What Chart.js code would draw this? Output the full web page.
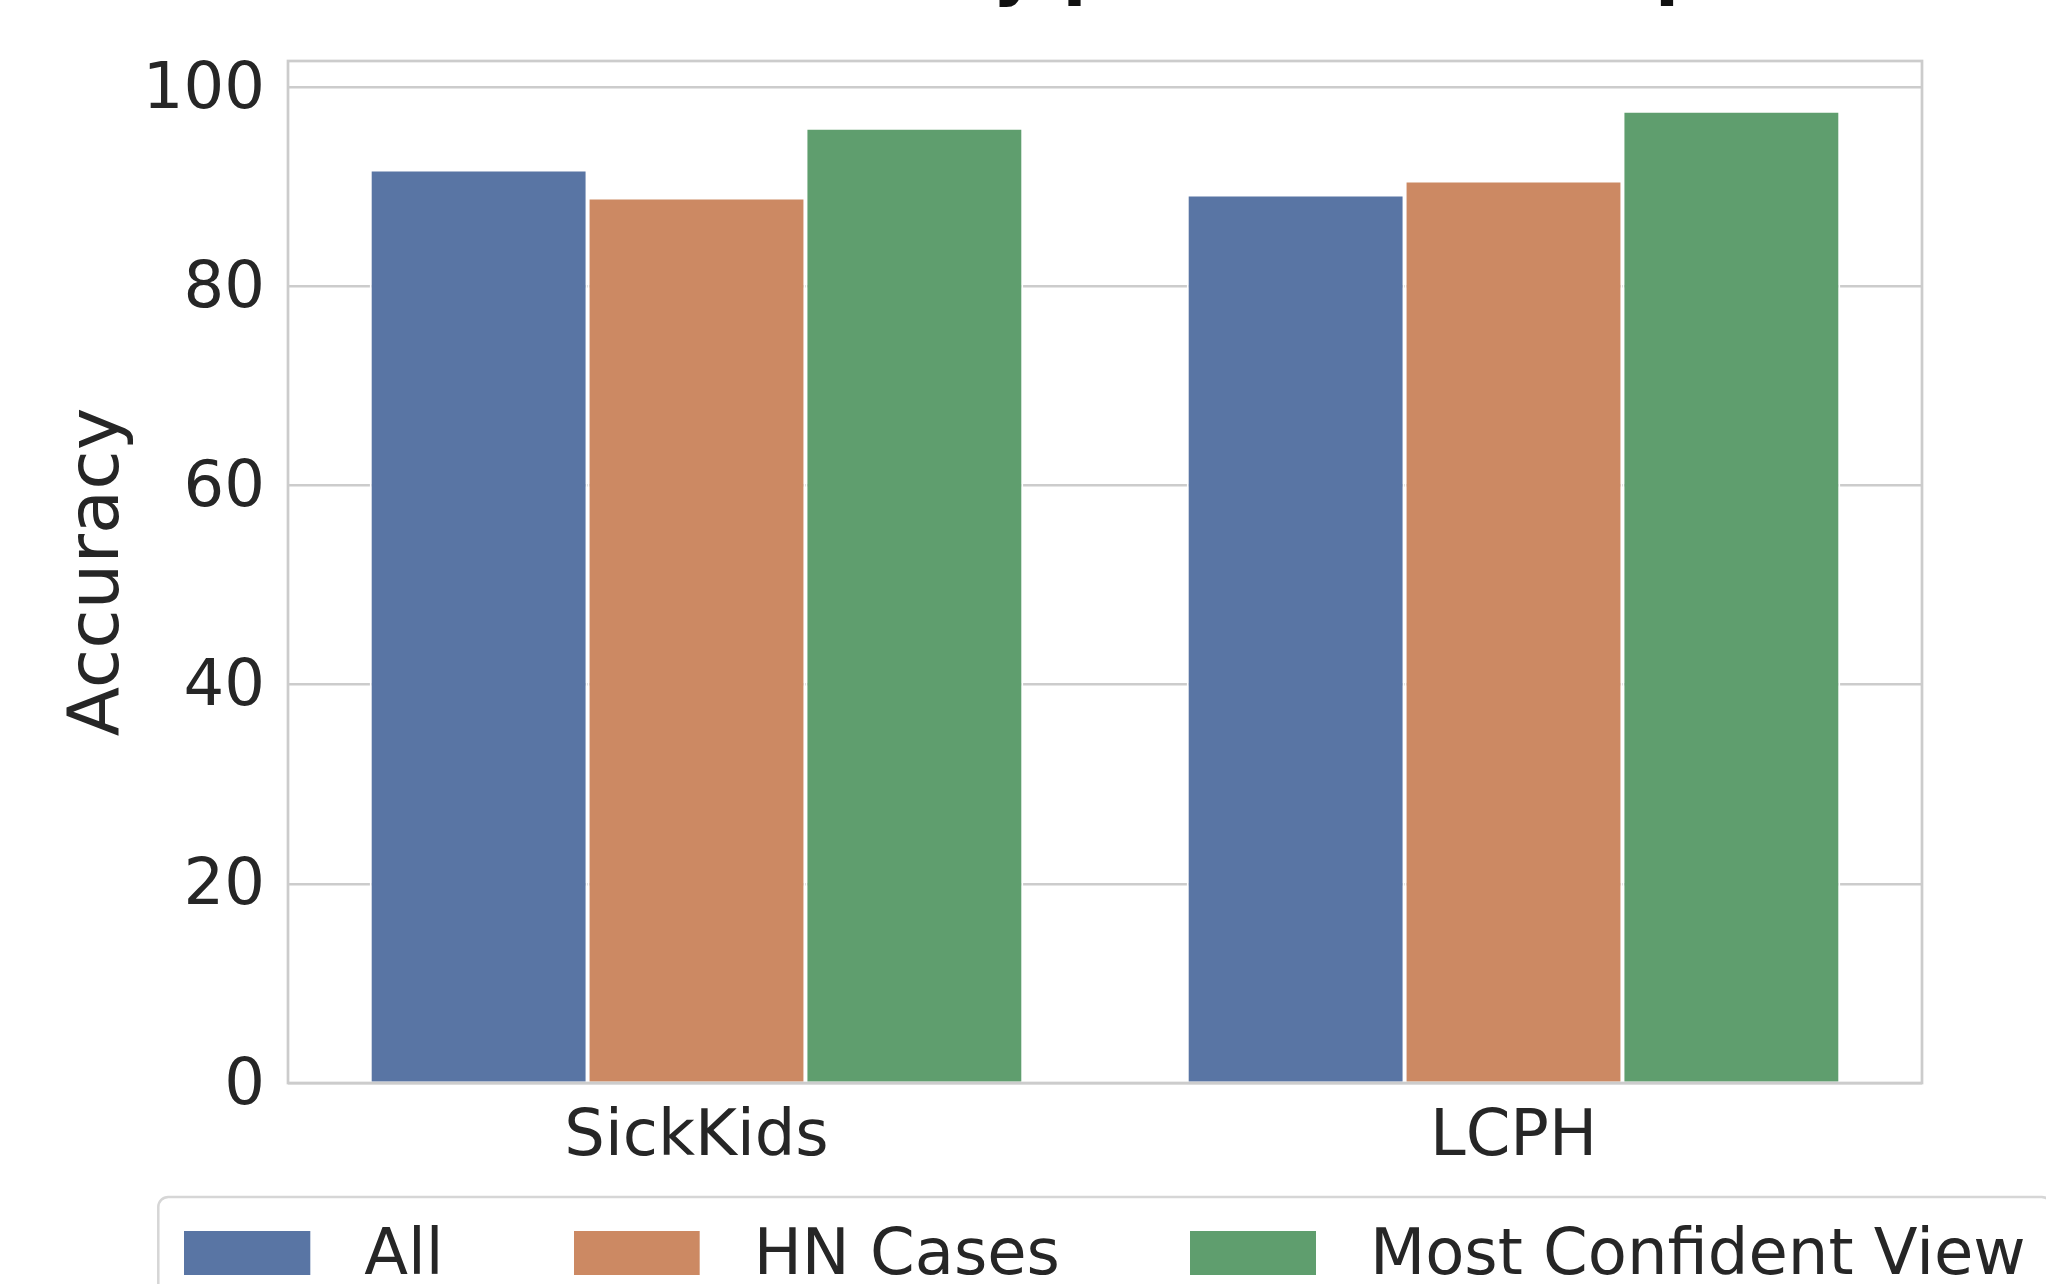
<!DOCTYPE html>
<html>
<head>
<meta charset="utf-8">
<script src="https://cdn.jsdelivr.net/npm/chart.js@4.4.1/dist/chart.umd.min.js"></script>
<style>
  html, body { margin: 0; padding: 0; background: #fff; overflow: hidden; }
  #wrap { position: relative; width: 2046px; height: 1284px; overflow: hidden; }
  /* the figure is cropped: title above and legend below run off the frame */
  #chart { position: absolute; left: 0; top: -68px; }
</style>
</head>
<body>
<div id="wrap"><canvas id="chart" width="2210" height="1367"></canvas></div>
<script>
const sites = ['SickKids', 'LCPH'];
const seriesNames = ['All', 'HN Cases', 'Most Confident View'];
const allAcc = [91.7, 89.2];
const hnCasesAcc = [88.9, 90.6];
const confidentViewAcc = [95.9, 97.6];
const seriesColors = ['#5975a4', '#cc8963', '#5f9e6e'];
const yMax = 102.6;
const yStep = 20;

const FONT = "'DejaVu Sans', sans-serif";
const TEXT = '#262626';
Chart.defaults.font.family = FONT;

// legend swatch: colored patch plus a transparent gap before the label
function makeSwatch(color) {
    const c = document.createElement('canvas');
    c.width = 148;
    c.height = 52;
    const g = c.getContext('2d');
    g.fillStyle = color;
    g.fillRect(0, 0, 126, 44);
    return c;
}
const swatches = seriesColors.map(makeSwatch);

const plotFrame = {
    id: 'plotFrame',
    afterDatasetsDraw(chart) {
        const { ctx, chartArea: a } = chart;
        ctx.save();
        ctx.strokeStyle = '#cccccc';
        ctx.lineWidth = 2.7;
        ctx.strokeRect(a.left, a.top, a.right - a.left, a.bottom - a.top);
        ctx.restore();
    }
};

const legendFrame = {
    id: 'legendFrame',
    afterDraw(chart) {
        const boxes = chart.legend.legendHitBoxes;
        if (!boxes || !boxes.length) return;
        const first = boxes[0];
        const last = boxes[boxes.length - 1];
        const left = first.left - 26;
        const top = first.top - 28;
        const right = last.left + last.width + 26;
        const ctx = chart.ctx;
        ctx.save();
        ctx.strokeStyle = '#d6d6d6';
        ctx.lineWidth = 2.5;
        ctx.beginPath();
        ctx.roundRect(left, top, right - left, 130, 10);
        ctx.stroke();
        ctx.restore();
    }
};

const datasets = [allAcc, hnCasesAcc, confidentViewAcc].map((vals, i) => ({
    label: seriesNames[i],
    data: vals,
    backgroundColor: seriesColors[i],
    borderColor: '#ffffff',
    borderWidth: 2,
    borderSkipped: 'start',
    barPercentage: 1.0,
    categoryPercentage: 0.8
}));

new Chart(document.getElementById('chart'), {
    type: 'bar',
    data: { labels: sites, datasets: datasets },
    options: {
        responsive: false,
        animation: false,
        devicePixelRatio: 1,
        layout: { padding: 0 },
        plugins: {
            tooltip: { enabled: false },
            title: {
                display: true,
                text: 'Validation Accuracy per Model Comparison',
                color: '#111111',
                font: { size: 70, weight: 'bold' },
                padding: { top: 0, bottom: 45 }
            },
            legend: {
                position: 'bottom',
                labels: {
                    usePointStyle: true,
                    pointStyleWidth: 148,
                    boxHeight: 44,
                    padding: 130,
                    color: TEXT,
                    font: { size: 64 },
                    generateLabels(chart) {
                        const items = Chart.defaults.plugins.legend.labels.generateLabels(chart);
                        items.forEach(it => { it.pointStyle = swatches[it.datasetIndex]; });
                        return items;
                    }
                }
            }
        },
        scales: {
            x: {
                grid: { display: false },
                border: { display: false },
                // mirrored so the labels are not clipped to the thin axis band; negative padding puts them back below
                ticks: { color: TEXT, font: { size: 64 }, mirror: true, padding: -94 },
                afterFit(s) { s.height = 12; }
            },
            y: {
                min: 0,
                max: yMax,
                grid: { color: '#cccccc', lineWidth: 2.5, drawTicks: false },
                border: { display: false },
                ticks: { stepSize: yStep, includeBounds: false, padding: 23, labelOffset: 4, color: TEXT, font: { size: 64 } },
                title: {
                    display: true,
                    text: 'Accuracy',
                    color: TEXT,
                    font: { size: 72 },
                    padding: { top: 56, bottom: 0 }
                },
                afterFit(s) { s.width = 288; }
            },
            // empty right-hand band so title and legend centre on the plot
            pad: {
                type: 'linear',
                position: 'right',
                grid: { display: false },
                border: { display: false },
                ticks: { display: false },
                afterFit(s) { s.width = 288; }
            }
        }
    },
    plugins: [plotFrame, legendFrame]
});
</script>
</body>
</html>
